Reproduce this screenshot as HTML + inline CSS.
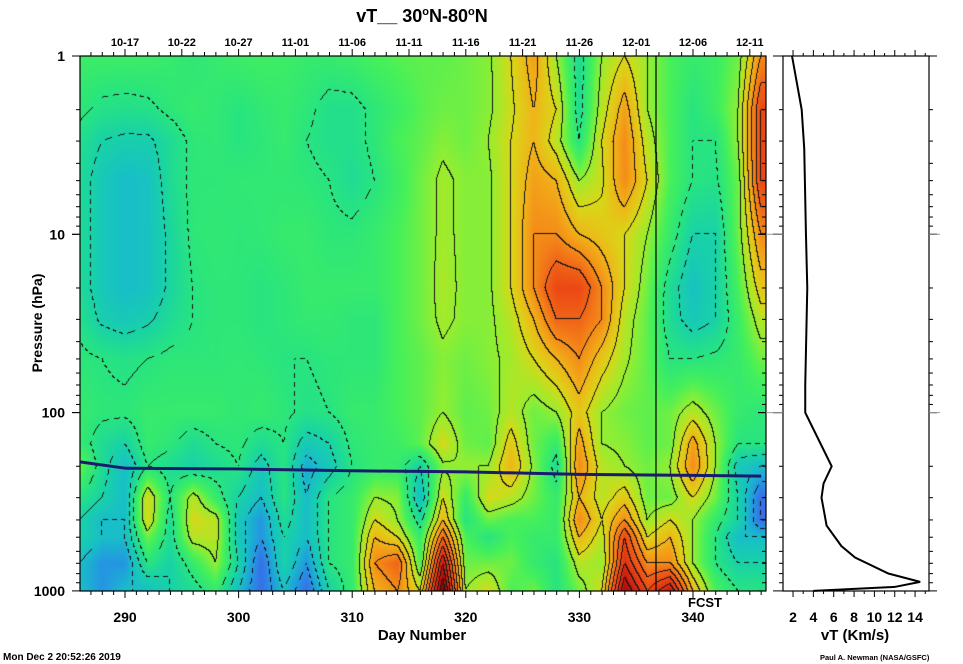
<!DOCTYPE html>
<html><head><meta charset="utf-8"><style>
body{margin:0;background:#fff;width:963px;height:664px;overflow:hidden;position:relative;font-family:"Liberation Sans",Arial,sans-serif}
canvas{position:absolute;left:0;top:0}
svg{position:absolute;left:0;top:0}
</style></head><body>
<canvas id="hm" width="963" height="664"></canvas>
<svg id="ov" width="963" height="664"></svg>
<script>
const days=[286,288,290,292,294,296,298,300,302,304,306,308,310,312,314,316,318,320,322,324,326,328,330,332,334,336,338,340,342,344,346];
const levels=[1,2,3,5,10,20,30,50,100,150,200,300,400,500,700,1000];
const vtP1=[-0.3,-0.3,-0.3,-0.3,-0.5,-0.8,-0.5,-0.3,-0.2,-0.3,-0.5,-0.5,-0.3,0,0.2,0.3,0.3,0.5,0.8,2,3.5,1,-1.5,1,2,1,0,-0.5,-0.3,0.5,4];
const vtP2=[-0.8,-1.2,-1.3,-1.2,-0.8,-0.5,-0.7,-1,-0.7,-0.5,-0.8,-1.3,-1.3,-0.8,-0.3,0.2,0.5,0.5,0.8,1.8,3,2,-1.5,1.5,3.5,1,0,-1,-0.3,1,6];
const vtP3=[-1.3,-2,-2.2,-2.2,-1.5,-0.8,-0.7,-1,-0.8,-0.5,-1,-1.3,-1.3,-0.8,0,0.3,0.8,0.5,1,2,3,1.5,-1,2,4,1.5,0,-1,-1,1,6];
const vtP5=[-1.5,-2.5,-3,-2.8,-1.5,-0.8,-0.8,-0.7,-0.7,-0.7,-0.8,-1,-1.5,-1,-0.3,0.5,1.2,0.8,0.8,2,3.5,3,1,1.8,4,2,0,-1,-1.2,0.5,6];
const vtP10=[-1.5,-2.5,-3,-2.8,-1.8,-0.8,-0.7,-0.8,-0.7,-0.5,-0.5,-0.8,-0.8,-0.5,0,0.5,1.2,0.8,0.8,2,4,4,3,2.5,2,1,-0.5,-2,-2,0.5,4];
const vtP20=[-1.5,-2.5,-3,-2.8,-1.8,-1,-0.8,-0.8,-1,-0.8,-0.5,-0.5,-0.5,-0.5,0,0.5,1.3,0.8,0.8,2,4,6,6,4,2,0.5,-1.5,-2.8,-2,0,2.5];
const vtP30=[-1.2,-2.2,-2.5,-2.2,-1.5,-1,-0.8,-0.8,-1,-0.8,-0.6,-0.6,-0.8,-0.8,0,0.5,1.2,0.8,0.8,1.5,3,5,5,4,1.5,0.3,-1.5,-2.5,-2,-0.3,1.5];
const vtP50=[-0.8,-1,-1.2,-1,-0.8,-0.8,-0.8,-0.7,-0.8,-1,-1,-0.8,-0.8,-0.8,0,0.3,0.8,0.5,0.8,1.2,2,3,4,2.5,1.2,0.3,-1,-1,-0.8,-0.5,0.5];
const vtP100=[-0.5,-0.8,-0.8,-0.5,-0.5,-0.5,-0.5,-0.7,-0.5,-0.8,-1.2,-1,-0.5,-0.5,0,0.3,1,0.3,0.5,1.5,0.5,1,2.5,1,0.5,0.3,0.5,1.5,0.5,-0.5,-0.8];
const vtP150=[-0.5,-1.5,-2,-0.5,-0.8,-1.5,-1,-0.8,-1.5,-1,-2.5,-2,-0.8,-0.5,-0.3,0.3,2,0.5,0.3,2.5,0.5,-0.5,3.5,1,0.8,0.3,0.5,3.5,1,-1,-1];
const vtP200=[0.5,-1.5,-3,-1,-1.5,-2,-1.5,-1,-2.5,-1,-3.5,-2.5,-1,-0.5,-0.5,-2,0.8,1,1,3,0.8,-1.5,4,1.5,1,0.5,1,4,1,-2.5,-3];
const vtP300=[-1,-2,-3,2,-1,1.5,-0.5,-2,-3,-1,-3,-1,-0.5,1,0.8,-3,2,-0.5,2,1.5,0.5,-0.5,3,1.5,2.5,0.5,0.5,2,0.5,-2,-5];
const vtP400=[-2,-3,-3,2,-1.5,2,1.5,-2.5,-4,-1.5,-3,-1,-0.5,2,1,-1.5,3,-1,0.5,0,0,-0.5,4,2,4,1,2,1,-0.5,-2,-5];
const vtP500=[-2,-3,-3,0.5,-1.5,1.5,1.5,-2.5,-4,-2,-3,-1,-0.5,3,2,-0.5,5,0,-1,0,-0.5,-0.5,3,1.5,6,2,3,1,-1,-3,-3];
const vtP700=[-3,-4,-4,-1,-2,-0.5,1,-2,-5,-2,-4,-1,-0.5,4,5,0,8,0.5,0.5,0.5,-0.5,-1,1.5,1,7,4,4,1,-1,-2,-2];
const vtP1000=[-3,-4,-3,-3,-2,-1.5,-0.5,-3,-5,-3,-5,-2,-0.5,3,4,2,10,1,2,0,0.5,-1,0.5,2,9,6,8,3,0,-1,-1];
const field=[vtP1,vtP2,vtP3,vtP5,vtP10,vtP20,vtP30,vtP50,vtP100,vtP150,vtP200,vtP300,vtP400,vtP500,vtP700,vtP1000];
const tropDays=[286,290,300,310,320,330,340,346];
const tropP=[189,205,207,212,215,222,225,227];
const profP=[1,2,3.3,10,20,70,100,200,250,300,430,560,650,800,890,950,1000];
const profV=[1.9,2.85,3.1,3.27,3.4,3.2,3.2,5.8,5.0,4.8,5.3,6.75,8.1,11.4,14.5,12,4.0];
const dayTicks=[290,300,310,320,330,340];
const dateLabels=['10-17','10-22','10-27','11-01','11-06','11-11','11-16','11-21','11-26','12-01','12-06','12-11'];
const presTicks=[1,10,100,1000];
const vtTicks=[2,4,6,8,10,12,14];

const X0=80,X1=766,Y0=56,Y1=591;
const xd=d=>125+(d-290)*11.36;
const yp=p=>Y0+178.3*Math.log10(p);
const PX0=783,PX1=929;
const xv=v=>772.7+v*10.17;
const stops=[[-7,[96,56,224]],[-6,[80,72,228]],[-5,[56,110,232]],[-4,[36,150,226]],[-3,[24,190,200]],[-2,[24,210,168]],[-1,[40,228,128]],[0,[70,240,90]],[1,[150,238,48]],[2,[216,216,24]],[3,[240,180,24]],[4,[244,140,24]],[5,[240,100,24]],[6,[236,72,20]],[8,[200,24,16]],[10,[128,0,0]]];
function col(v){if(v<=stops[0][0])return stops[0][1];
 for(let i=1;i<stops.length;i++){if(v<=stops[i][0]){const a=stops[i-1],b=stops[i],t=(v-a[0])/(b[0]-a[0]);return a[1].map((c,k)=>c+(b[1][k]-c)*t);}}
 return stops[stops.length-1][1];}
const lv=levels.map(p=>Math.log10(p));
function val(d,p){const lp=Math.log10(p);
 let i=Math.min(days.length-2,Math.max(0,Math.floor((d-days[0])/2)));let tx=(d-days[i])/(days[i+1]-days[i]);tx=Math.max(0,Math.min(1,tx));
 let j=0;while(j<lv.length-2&&lp>lv[j+1])j++;let ty=(lp-lv[j])/(lv[j+1]-lv[j]);ty=Math.max(0,Math.min(1,ty));
 const a=field[j][i],b=field[j][i+1],c=field[j+1][i],e=field[j+1][i+1];
 return (a*(1-tx)+b*tx)*(1-ty)+(c*(1-tx)+e*tx)*ty;}
const cv=document.getElementById('hm'),ctx=cv.getContext('2d');
const W=X1-X0,H=Y1-Y0;const img=ctx.createImageData(W,H);const F=new Float32Array(W*H);
for(let y=0;y<H;y++){const p=Math.pow(10,(y+0.5)/178.3);for(let x=0;x<W;x++){const d=290+(x+X0+0.5-125)/11.36;F[y*W+x]=val(d,p);}}
const band=v=>v>0?Math.floor(v):Math.ceil(v);
for(let y=0;y<H;y++)for(let x=0;x<W;x++){const k=y*W+x,v=F[k];let c=col(v);
 const b=band(v);let line=false,neg=false;
 if(x<W-1){const b2=band(F[k+1]);if(b2!==b){line=true;neg=Math.min(b,b2)<0;}}
 if(y<H-1){const b2=band(F[k+W]);if(b2!==b){line=true;neg=neg||Math.min(b,b2)<0;}}
 if(line&&(!neg||((x+y)%9)<5))c=[20,20,20];
 const o=k*4;img.data[o]=c[0];img.data[o+1]=c[1];img.data[o+2]=c[2];img.data[o+3]=255;}
ctx.putImageData(img,X0,Y0);

const NS='http://www.w3.org/2000/svg',svg=document.getElementById('ov');
function mk(t,a,txt){const e=document.createElementNS(NS,t);for(const k in a)e.setAttribute(k,a[k]);if(txt!==undefined)e.textContent=txt;svg.appendChild(e);return e;}
let e;
e=mk('rect',{x:X0,y:Y0,width:W,height:H,fill:'none',stroke:'#000','stroke-width':1.2});


e=mk('rect',{x:PX0,y:Y0,width:PX1-PX0,height:H,fill:'none',stroke:'#000','stroke-width':1.2});


e=mk('line',{x1:656,x2:656,y1:Y0,y2:Y1,stroke:'#000','stroke-width':1.2});


e=mk('text',{x:688,y:607,'font-size':13,'font-weight':'bold'},'FCST');


e=mk('polyline',{points:tropDays.map((d,i)=>xd(Math.max(286.04,Math.min(346.4,d)))+','+yp(tropP[i])).join(' '),fill:'none',stroke:'#1a1a6e','stroke-width':3});


for(let d=287;d<=346;d++){const x=xd(d);const maj=(d%10===0);
 mk('line',{x1:x,x2:x,y1:Y1,y2:Y1+(maj?7:4),stroke:'#000'});
 const top=((d-290)%5===0);mk('line',{x1:x,x2:x,y1:Y0,y2:Y0-(top?7:4),stroke:'#000'});}
dayTicks.forEach(d=>{e=mk('text',{x:xd(d),y:622,'font-size':14,'font-weight':'bold','text-anchor':'middle'},String(d));

});
dateLabels.forEach((s,i)=>{e=mk('text',{x:xd(290+5*i),y:46,'font-size':11,'font-weight':'bold','text-anchor':'middle'},s);

});
for(let dec=0;dec<3;dec++)for(let m=1;m<=10;m++){const p=m*Math.pow(10,dec);const y=yp(p);const maj=(m===1||m===10);
 mk('line',{x1:X0,x2:X0-(maj?8:4),y1:y,y2:y,stroke:'#000'});
 mk('line',{x1:X1,x2:X1-(maj?8:4),y1:y,y2:y,stroke:'#000'});
 mk('line',{x1:PX0,x2:PX0-(maj?10:4),y1:y,y2:y,stroke:'#000'});
 mk('line',{x1:PX1,x2:PX1+(maj?8:4),y1:y,y2:y,stroke:'#000'});}
[10,100].forEach(p=>{mk('line',{x1:X1,x2:PX0,y1:yp(p),y2:yp(p),stroke:'#999'});mk('line',{x1:PX1,x2:940,y1:yp(p),y2:yp(p),stroke:'#999'});});
presTicks.forEach(p=>{e=mk('text',{x:65,y:yp(p)+5,'font-size':14,'font-weight':'bold','text-anchor':'end'},String(p));

});
e=mk('text',{x:42,y:323,'font-size':14,'font-weight':'bold','text-anchor':'middle',transform:'rotate(-90 42 323)'},'Pressure (hPa)');


e=mk('text',{x:422,y:640,'font-size':15,'font-weight':'bold','text-anchor':'middle'},'Day Number');


const t=mk('text',{x:422,y:22,'font-size':18,'font-weight':'bold','text-anchor':'middle'});


t.innerHTML='vT__ 30<tspan dy="-7" font-size="11">o</tspan><tspan dy="7">N-80</tspan><tspan dy="-7" font-size="11">o</tspan><tspan dy="7">N</tspan>';
for(let v=1;v<=15;v++){const x=xv(v);if(x<PX0||x>PX1)continue;const maj=v%2===0;
 mk('line',{x1:x,x2:x,y1:Y1,y2:Y1+(maj?6:3),stroke:'#000'});mk('line',{x1:x,x2:x,y1:Y0,y2:Y0-(maj?6:3),stroke:'#000'});}
vtTicks.forEach(v=>{e=mk('text',{x:xv(v),y:622,'font-size':14,'font-weight':'bold','text-anchor':'middle'},String(v));

});
e=mk('text',{x:855,y:640,'font-size':15,'font-weight':'bold','text-anchor':'middle'},'vT (Km/s)');


e=mk('polyline',{points:profP.map((p,i)=>xv(profV[i])+','+yp(p)).join(' '),fill:'none',stroke:'#000','stroke-width':2});


e=mk('text',{x:3,y:660,'font-size':10,'font-weight':'bold'},'Mon Dec  2 20:52:26 2019');


e.setAttribute('xml:space','preserve');
e=mk('text',{x:820,y:660,'font-size':7.5,'font-weight':'bold'},'Paul A. Newman (NASA/GSFC)');


</script>
</body></html>
